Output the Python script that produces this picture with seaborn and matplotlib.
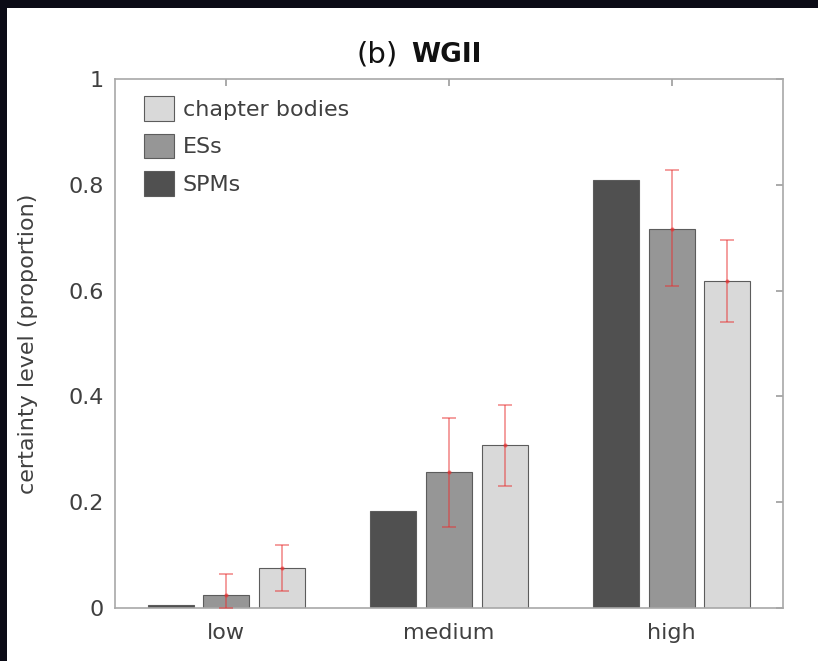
import numpy as np
import pandas as pd
import matplotlib
matplotlib.use('Agg')
import matplotlib.pyplot as plt
import seaborn as sns
from matplotlib.patches import Rectangle

# 数据
levels = ['low', 'medium', 'high']
sources = ['SPMs', 'ESs', 'chapter bodies']
spm_vals = [0.006, 0.183, 0.810]
es_vals = [0.025, 0.257, 0.716]
body_vals = [0.076, 0.308, 0.618]
es_lo = [0.0, 0.154, 0.609]
es_hi = [0.065, 0.360, 0.828]
body_lo = [0.033, 0.231, 0.541]
body_hi = [0.120, 0.383, 0.695]
ytick_vals = [0, 0.2, 0.4, 0.6, 0.8, 1]
ytick_labels = ['0', '0.2', '0.4', '0.6', '0.8', '1']

bar_colors = ['#505050', '#969696', '#d9d9d9']
text_color = '#404040'

df = pd.DataFrame({
    'level': levels * 3,
    'source': [s for s in sources for _ in levels],
    'value': spm_vals + es_vals + body_vals,
})

sns.set_theme(style="white")
plt.rcParams['font.family'] = ['DejaVu Sans']

fig = plt.figure(figsize=(8.18, 6.61), dpi=100, facecolor='#0b0b16')
fig.add_artist(Rectangle((7 / 818, 0), 1, 653 / 661, transform=fig.transFigure,
                         facecolor='white', edgecolor='none', zorder=0))
ax = fig.add_axes([115 / 818, 53 / 661, 668 / 818, 529 / 661])

sns.barplot(data=df, x='level', y='value', hue='source', order=levels, hue_order=sources,
            palette=bar_colors, width=0.75, gap=0.17, edgecolor='#5c5c5c', linewidth=0.8,
            errorbar=None, saturation=1, ax=ax)

# 误差线 (仅 ESs 与 chapter bodies)
for cont, lo, hi in [(ax.containers[1], es_lo, es_hi), (ax.containers[2], body_lo, body_hi)]:
    xs = [b.get_x() + b.get_width() / 2 for b in cont.patches]
    ys = [b.get_height() for b in cont.patches]
    yerr = [np.array(ys) - np.array(lo), np.array(hi) - np.array(ys)]
    ax.errorbar(xs, ys, yerr=yerr, fmt='.', color='#e83030', alpha=0.55,
                capsize=5, markersize=4, elinewidth=1.2, capthick=1.2, zorder=5)

ax.set_xlim(-0.5, 2.5)
ax.set_ylim(0, 1)
ax.set_yticks(ytick_vals)
ax.set_yticklabels(ytick_labels)
ax.set_xlabel('')
ax.set_ylabel('certainty level (proportion)', fontsize=16, color=text_color, labelpad=22)
ax.tick_params(direction='in', length=5, top=True, right=True, color='#a0a0a0',
               labelcolor=text_color, labelsize=16)
ax.tick_params(axis='x', pad=11)
ax.tick_params(axis='y', pad=8)
for sp in ax.spines.values():
    sp.set_color('#a8a8a8')
    sp.set_linewidth(1.2)

handles, labels = ax.get_legend_handles_labels()
ax.legend(handles[::-1], labels[::-1], loc='upper left', bbox_to_anchor=(0.03, 0.984),
          borderaxespad=0, frameon=False, fontsize=16, handlelength=1.35, handleheight=1.35,
          labelspacing=0.55, handletextpad=0.4, labelcolor=text_color)

fig.text(398 / 818, (661 - 55) / 661, '(b)', ha='right', va='center',
         fontsize=21, color='#111111')
fig.text(411 / 818, (661 - 55) / 661, 'WGII', ha='left', va='center',
         fontsize=19, fontweight='bold', color='#111111')

fig.savefig('out.png', dpi=100, facecolor=fig.get_facecolor())
